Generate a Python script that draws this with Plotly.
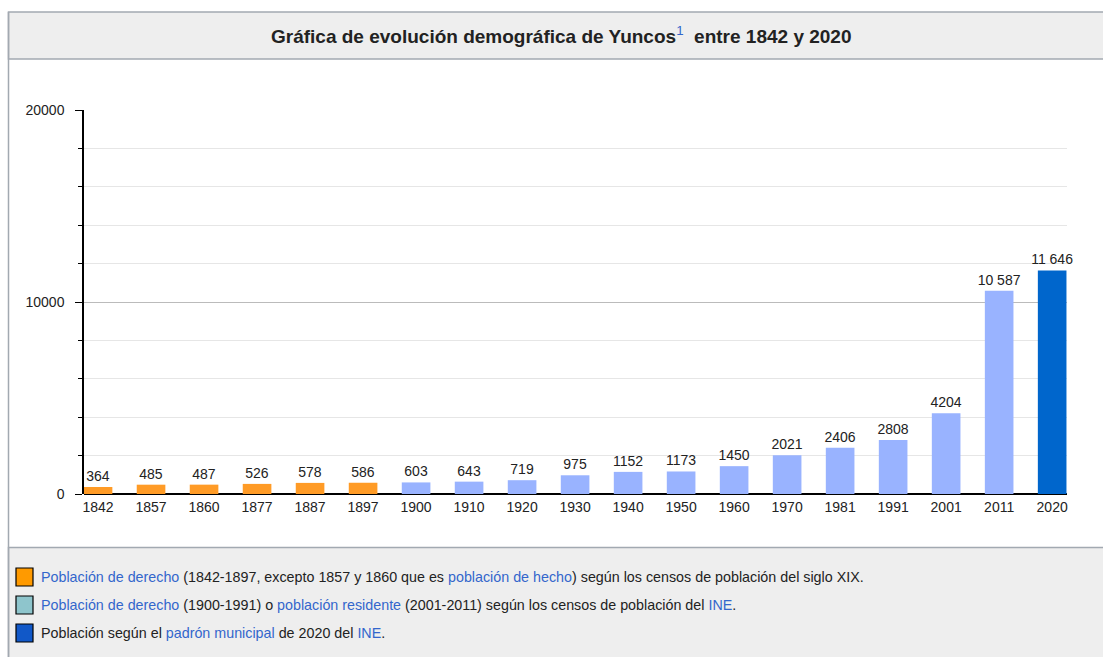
import plotly.graph_objects as go

years = ["1842", "1857", "1860", "1877", "1887", "1897", "1900", "1910", "1920", "1930",
         "1940", "1950", "1960", "1970", "1981", "1991", "2001", "2011", "2020"]
population = [364, 485, 487, 526, 578, 586, 603, 643, 719, 975,
              1152, 1173, 1450, 2021, 2406, 2808, 4204, 10587, 11646]
labels = ["364", "485", "487", "526", "578", "586", "603", "643", "719", "975",
          "1152", "1173", "1450", "2021", "2406", "2808", "4204", "10 587", "11 646"]
groups = [0, 0, 0, 0, 0, 0, 1, 1, 1, 1, 1, 1, 1, 1, 1, 1, 1, 1, 2]
bar_colors = ["#ff9b26", "#99b3ff", "#0066cc"]
legend_colors = ["#ff9a00", "#8ec5cc", "#1158c8"]

W, H = 1103, 657
L, R, T, B = 84, 1067, 110, 494
FONT = "Liberation Sans, Arial, sans-serif"

def px(x):
    return (x - L) / (R - L)

def py(y):
    return (B - y) / (B - T)

fig = go.Figure()
for g in range(3):
    idx = [i for i, gg in enumerate(groups) if gg == g]
    fig.add_trace(go.Bar(
        x=idx,
        y=[population[i] for i in idx],
        text=[labels[i] for i in idx],
        textposition="outside",
        constraintext="none",
        textfont=dict(size=14, color="#222222", family=FONT),
        marker=dict(color=bar_colors[g], line=dict(width=0)),
        width=0.54,
        cliponaxis=False,
        showlegend=False,
        hoverinfo="skip",
    ))

x_range = [-0.265, 18.28]

fig.update_layout(
    width=W, height=H,
    margin=dict(l=L, r=W - R, t=T, b=H - B, pad=0),
    paper_bgcolor="white",
    plot_bgcolor="white",
    barmode="overlay",
    font=dict(family=FONT, size=14, color="#222222"),
    xaxis=dict(
        range=x_range,
        tickvals=list(range(len(years))),
        ticktext=years,
        showgrid=False,
        zeroline=False,
        showline=False,
        ticks="",
        ticklabelstandoff=3,
        tickfont=dict(size=14, color="#222222"),
        fixedrange=True,
    ),
    yaxis=dict(
        range=[0, 20000],
        tickvals=[0, 10000, 20000],
        tickformat="d",
        showgrid=True,
        gridcolor="#bbbbbb",
        gridwidth=1,
        zeroline=True,
        zerolinecolor="#000000",
        zerolinewidth=1.5,
        showline=True,
        linecolor="#000000",
        linewidth=1.5,
        ticks="outside",
        ticklen=7,
        tickcolor="#000000",
        tickwidth=1,
        ticklabelstandoff=8,
        tickfont=dict(size=14, color="#222222"),
        minor=dict(dtick=2000, showgrid=True, gridcolor="#e6e6e6", ticks="outside",
                   ticklen=4, tickcolor="#000000", tickwidth=1),
        fixedrange=True,
    ),
)

shapes = []
shapes.append(dict(type="line", xref="paper", yref="paper", x0=px(8.5), x1=px(8.5), y0=py(12), y1=py(660),
                   line=dict(color="#a2a9b1", width=1.5), layer="above"))
shapes.append(dict(type="rect", xref="paper", yref="paper", x0=px(8.5), x1=px(1110), y0=py(59), y1=py(12),
                   fillcolor="#eeeeee", line=dict(color="#a2a9b1", width=1.5), layer="below"))
shapes.append(dict(type="rect", xref="paper", yref="paper", x0=px(8.5), x1=px(1110), y0=py(670), y1=py(547.5),
                   fillcolor="#eeeeee", line=dict(color="#a2a9b1", width=1.5), layer="below"))
for k, ycen in enumerate([577, 605, 633]):
    shapes.append(dict(type="rect", xref="paper", yref="paper", x0=px(16), x1=px(33), y0=py(ycen + 9), y1=py(ycen - 9),
                       fillcolor=legend_colors[k], line=dict(color="#000000", width=1.2), layer="above"))

blue = "#3366cc"
legend_texts = [
    f"<span style='color:{blue}'>Población de derecho</span> (1842-1897, excepto 1857 y 1860 que es "
    f"<span style='color:{blue}'>población de hecho</span>) según los censos de población del siglo XIX.",
    f"<span style='color:{blue}'>Población de derecho</span> (1900-1991) o "
    f"<span style='color:{blue}'>población residente</span> (2001-2011) según los censos de población del "
    f"<span style='color:{blue}'>INE</span>.",
    f"Población según el <span style='color:{blue}'>padrón municipal</span> de 2020 del "
    f"<span style='color:{blue}'>INE</span>.",
]

annotations = [
    dict(xref="paper", yref="paper", x=px(561), y=py(35), xanchor="center", yanchor="middle",
         text=f"<b>Gráfica de evolución demográfica de Yuncos</b><sup><span style='color:{blue}'>1</span></sup><b>  entre 1842 y 2020</b>",
         showarrow=False, font=dict(size=19, color="#222222", family=FONT)),
]
for k, ycen in enumerate([577, 605, 633]):
    annotations.append(dict(xref="paper", yref="paper", x=px(39), y=py(ycen), xanchor="left", yanchor="middle",
                            text=legend_texts[k], showarrow=False,
                            font=dict(size=14.3, color="#222222", family=FONT)))

fig.update_layout(shapes=shapes, annotations=annotations)

fig.write_html("out.html", config={"displayModeBar": False},
               post_script="document.body.style.margin='0';document.body.style.overflow='hidden';")
